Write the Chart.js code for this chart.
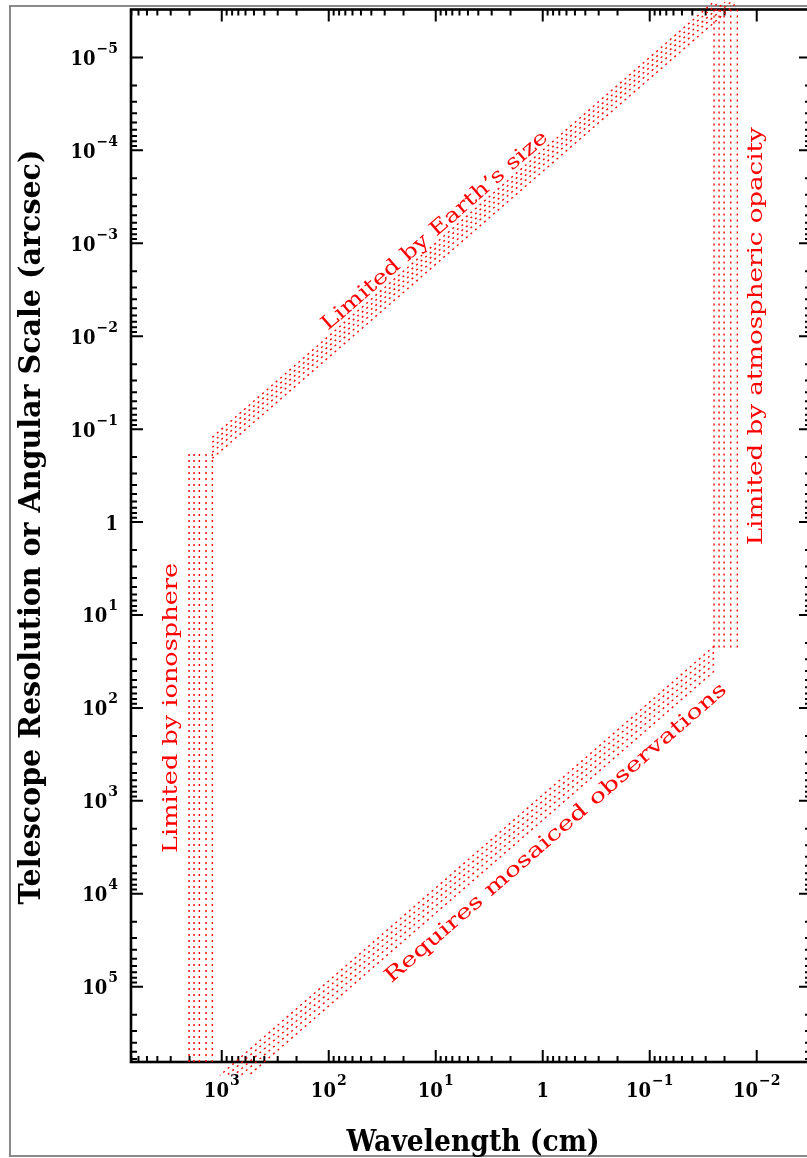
<!DOCTYPE html>
<html>
<head>
<meta charset="utf-8">
<script src="https://cdn.jsdelivr.net/npm/chart.js@4/dist/chart.umd.min.js"></script>
<style>
  html, body { margin: 0; padding: 0; background: #fff; overflow: hidden; width: 807px; height: 1158px; }
  #sheet { position: absolute; left: 9px; top: 5px; width: 840px; height: 1152px; border: 2px solid #8a8a8a; box-sizing: border-box; }
  #plot { position: absolute; left: 0; top: 0; }
</style>
</head>
<body>
<div id="sheet"></div>
<canvas id="plot" width="840" height="1158"></canvas>
<script>
// Axis extents (wavelength in cm, angular scale in arcsec); both axes run reversed.
const wavelengthRange = [0.00311, 7050];
const angleRange = [3.05e-6, 6.46e5];

// Major tick values and their labels (base, exponent).
const wavelengthTicks = [1e3, 1e2, 1e1, 1, 1e-1, 1e-2];
const wavelengthTickLabels = [['10', '3'], ['10', '2'], ['10', '1'], ['1', ''], ['10', '\u22121'], ['10', '\u22122']];
const angleTicks = [1e-5, 1e-4, 1e-3, 1e-2, 1e-1, 1, 1e1, 1e2, 1e3, 1e4, 1e5];
const angleTickLabels = [['10', '\u22125'], ['10', '\u22124'], ['10', '\u22123'], ['10', '\u22122'], ['10', '\u22121'],
                         ['1', ''], ['10', '1'], ['10', '2'], ['10', '3'], ['10', '4'], ['10', '5']];

// Ionosphere limit: cut-off wavelengths (cm) of the five boundary traces, up to where they stop.
const ionosphereWavelength = [2021, 1815, 1619, 1402, 1224];
const ionosphereTopAngle = 0.169;

// Earth-size limit: each trace runs from the ionosphere corner up to the opacity cut-off.
const earthStartWavelength = 1224;
const earthStartAngle = [0.1222, 0.1383, 0.1566, 0.1773, 0.2057];
const earthEndWavelength = [0.02540, 0.02246, 0.01983, 0.01754, 0.01511];
const earthEndAngle = 2.54e-6;

// Atmospheric opacity limit: cut-off wavelengths (cm), down to where the traces stop.
const atmosphereWavelength = [0.02506, 0.02249, 0.02018, 0.01749, 0.01518];
const atmosphereBottomAngle = 22.8;

// Mosaicing limit: traces run from the opacity corner down to long wavelengths.
const mosaicStartWavelength = 0.02506;
const mosaicStartAngle = [21.7, 25.2, 29.2, 33.9, 40.3];
const mosaicEndWavelength = [1042, 898, 774, 666, 561];
const mosaicEndAngle = 9.02e5;

// Annotation text and anchor positions (data coordinates).
const noteText = ['Limited by Earth\u2019s size', 'Limited by atmospheric opacity', 'Limited by ionosphere', 'Requires mosaiced observations'];
const noteWavelength = [10.15, 0.0100, 2913, 0.75];
const noteAngle = [7.4e-4, 0.0100, 100, 2240];
const noteWidth = [293, 418, 290, 446];
const noteDiagonal = [true, false, false, true];

const RED = '#ff0000';
const datasets = [];
ionosphereWavelength.forEach(w => {
  datasets.push({ data: [{ x: w, y: angleRange[1] }, { x: w, y: ionosphereTopAngle }] });
});
earthStartAngle.forEach((a, i) => {
  datasets.push({ data: [{ x: earthStartWavelength, y: a }, { x: earthEndWavelength[i], y: earthEndAngle }] });
});
atmosphereWavelength.forEach(w => {
  datasets.push({ data: [{ x: w, y: angleRange[0] }, { x: w, y: atmosphereBottomAngle }] });
});
mosaicStartAngle.forEach((a, i) => {
  datasets.push({ data: [{ x: mosaicStartWavelength, y: a }, { x: mosaicEndWavelength[i], y: mosaicEndAngle }] });
});
datasets.forEach(d => Object.assign(d, {
  showLine: true, borderColor: RED, borderWidth: 1.4, borderDash: [2, 4],
  pointRadius: 0, tension: 0, clip: false, fill: false
}));

function minorValues(lo, hi, firstDecade, lastDecade) {
  const out = [];
  for (let d = firstDecade; d <= lastDecade; d++) {
    for (let m = 2; m <= 9; m++) {
      const v = m * Math.pow(10, d);
      if (v >= lo && v <= hi) out.push(v);
    }
  }
  return out;
}

function fitText(ctx, str, x, y, font, width, rot, align, baseline) {
  ctx.save();
  ctx.font = font;
  const w = ctx.measureText(str).width;
  ctx.translate(x, y);
  ctx.rotate(rot);
  ctx.scale(width / w, 1);
  ctx.textAlign = align || 'center';
  ctx.textBaseline = baseline || 'alphabetic';
  ctx.fillText(str, 0, 0);
  ctx.restore();
}

const BASE_FONT = 'bold 20px "DejaVu Serif"';
const SUP_FONT = 'bold 14px "DejaVu Serif"';
const BASE_SQUEEZE = 0.9;

function tickLabelWidths(ctx, pair) {
  ctx.font = BASE_FONT;
  const wb = ctx.measureText(pair[0]).width * BASE_SQUEEZE;
  ctx.font = SUP_FONT;
  const ws = pair[1] ? ctx.measureText(pair[1]).width : 0;
  return [wb, ws];
}

function drawTickLabel(ctx, pair, left, baseY) {
  const [wb] = tickLabelWidths(ctx, pair);
  ctx.save();
  ctx.fillStyle = '#000';
  ctx.textAlign = 'left';
  ctx.textBaseline = 'alphabetic';
  ctx.translate(left, baseY);
  ctx.save();
  ctx.scale(BASE_SQUEEZE, 1);
  ctx.font = BASE_FONT;
  ctx.fillText(pair[0], 0, 0);
  ctx.restore();
  if (pair[1]) {
    ctx.font = SUP_FONT;
    ctx.fillText(pair[1], wb + 1, -12);
  }
  ctx.restore();
}

const axesFrame = {
  id: 'axesFrame',
  beforeDatasetsDraw(chart) {
    const { ctx, chartArea: a, scales: { x, y } } = chart;
    ctx.save();
    ctx.strokeStyle = '#000';
    ctx.lineCap = 'butt';
    // ticks, mirrored on all four sides and pointing inward
    ctx.lineWidth = 2;
    const xMinor = minorValues(wavelengthRange[0], wavelengthRange[1], -2, 3);
    const yMinor = minorValues(angleRange[0], angleRange[1], -5, 5);
    const MAJ = 12, MIN = 6;
    const drawX = (v, len) => {
      const px = x.getPixelForValue(v);
      ctx.beginPath();
      ctx.moveTo(px, a.bottom); ctx.lineTo(px, a.bottom - len);
      ctx.moveTo(px, a.top); ctx.lineTo(px, a.top + len);
      ctx.stroke();
    };
    const drawY = (v, len) => {
      const py = y.getPixelForValue(v);
      ctx.beginPath();
      ctx.moveTo(a.left, py); ctx.lineTo(a.left + len, py);
      ctx.moveTo(a.right, py); ctx.lineTo(a.right - len, py);
      ctx.stroke();
    };
    xMinor.forEach(v => drawX(v, MIN));
    wavelengthTicks.forEach(v => drawX(v, MAJ));
    yMinor.forEach(v => drawY(v, MIN));
    angleTicks.forEach(v => drawY(v, MAJ));
    // frame
    ctx.lineWidth = 2.6;
    ctx.strokeRect(a.left, a.top, a.right - a.left, a.bottom - a.top);
    ctx.restore();

    // tick labels
    wavelengthTicks.forEach((v, i) => {
      const pair = wavelengthTickLabels[i];
      const [wb, ws] = tickLabelWidths(ctx, pair);
      const total = wb + (pair[1] ? ws + 1 : 0);
      drawTickLabel(ctx, pair, x.getPixelForValue(v) - total / 2, a.bottom + 35);
    });
    angleTicks.forEach((v, i) => {
      const pair = angleTickLabels[i];
      const [wb, ws] = tickLabelWidths(ctx, pair);
      const total = wb + (pair[1] ? ws + 1 : 0);
      drawTickLabel(ctx, pair, 118 - total, y.getPixelForValue(v) + 7.5);
    });

    // axis titles
    ctx.save();
    ctx.fillStyle = '#000';
    fitText(ctx, 'Wavelength (cm)', (a.left + a.right) / 2 + 2, 1151, 'bold 30px "DejaVu Serif"', 253, 0, 'center', 'alphabetic');
    fitText(ctx, 'Telescope Resolution or Angular Scale (arcsec)', 40, 527, 'bold 30px "DejaVu Serif"', 755, -Math.PI / 2, 'center', 'alphabetic');
    ctx.restore();
  },
  afterDatasetsDraw(chart) {
    const { ctx, scales: { x, y } } = chart;
    // direction of a constant θ/λ line on these axes
    const dx = x.getPixelForValue(1) - x.getPixelForValue(10);
    const dy = y.getPixelForValue(1) - y.getPixelForValue(10);
    const diag = Math.atan2(-Math.abs(dy), Math.abs(dx));
    ctx.save();
    ctx.fillStyle = RED;
    noteText.forEach((t, i) => {
      const px = x.getPixelForValue(noteWavelength[i]);
      const py = y.getPixelForValue(noteAngle[i]);
      fitText(ctx, t, px, py, '20px "DejaVu Serif"', noteWidth[i], noteDiagonal[i] ? diag : -Math.PI / 2, 'center', 'middle');
    });
    ctx.restore();
  }
};

new Chart(document.getElementById('plot').getContext('2d'), {
  type: 'scatter',
  data: { datasets },
  options: {
    responsive: false,
    animation: false,
    devicePixelRatio: 1,
    layout: { padding: { left: 131, top: 9.5, right: 840 - 811, bottom: 1158 - 1062 } },
    plugins: { legend: { display: false }, tooltip: { enabled: false } },
    scales: {
      x: { type: 'logarithmic', reverse: true, min: wavelengthRange[0], max: wavelengthRange[1], display: false },
      y: { type: 'logarithmic', reverse: true, min: angleRange[0], max: angleRange[1], display: false }
    }
  },
  plugins: [axesFrame]
});
</script>
</body>
</html>
